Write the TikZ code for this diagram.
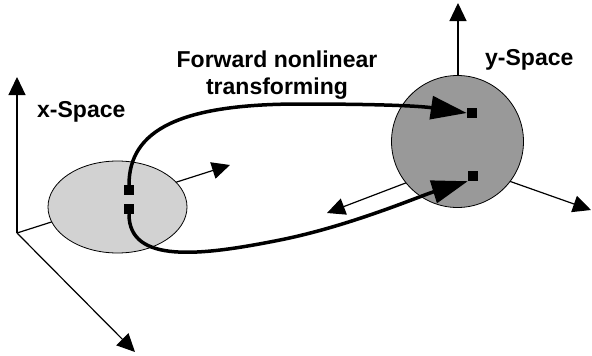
\documentclass[tikz,border=0pt]{standalone}
\usepackage{fontspec}
\setmainfont{Liberation Sans}
\usetikzlibrary{arrows.meta,shapes.geometric}
\definecolor{xfill}{RGB}{210,210,210}
\definecolor{yfill}{RGB}{153,153,153}
\begin{document}
\begin{tikzpicture}[x=1pt,y=-1pt,
  axis/.style={line width=1.2pt,-{Triangle[length=18pt,width=17pt]}},
  map/.style={line width=3.5pt,-{Triangle[length=36pt,width=23pt]}},
  pt/.style={fill=black,minimum size=10pt,inner sep=0pt},
  lbl/.style={font=\fontsize{23}{27}\selectfont\bfseries,inner sep=0pt},
  space/.style={draw,line width=0.8pt,inner sep=0pt}]
\useasboundingbox (0,0) rectangle (592,356);
% axis coordinates
\coordinate (xo) at (17,233);
\coordinate (xup) at (17,77);
\coordinate (xright) at (230,165);
\coordinate (xdown) at (135,352);
\coordinate (yo) at (458,163);
\coordinate (yup) at (458,3);
\coordinate (yright) at (591,210);
\coordinate (yleft) at (327,213);
% axes
\draw[axis] (xo) -- (xup);
\draw[axis] (xo) -- (xright);
\draw[axis] (xo) -- (xdown);
\draw[axis] (yo) -- (yup);
\draw[axis] (yo) -- (yright);
\draw[axis] (yo) -- (yleft);
% spaces
\node[space,ellipse,fill=xfill,minimum width=139pt,minimum height=92pt] (xs) at (117.5,207) {};
\node[space,circle,fill=yfill,minimum size=132pt] (ys) at (457.5,141.5) {};
% points
\node[pt] (a1) at (129,190) {};
\node[pt] (a2) at (129,209) {};
\node[pt] (b1) at (472,113) {};
\node[pt] (b2) at (473,176) {};
% mappings
\draw[map] (a1.north) .. controls (129,130) and (180,104) .. (300,104)
  .. controls (380,104) and (420,106) .. (b1.west);
\draw[map] (a2.south) .. controls (129,264) and (200,256) .. (280,240)
  .. controls (350,226) and (420,196) .. (b2.south west);
% labels
\node[lbl,anchor=base west] (xl) at (37,117) {x-Space};
\node[lbl,anchor=base west] (yl) at (485,65) {y-Space};
\node[lbl,align=center,anchor=north] (tl) at (277,51) {Forward nonlinear\\transforming};
\end{tikzpicture}
\end{document}
